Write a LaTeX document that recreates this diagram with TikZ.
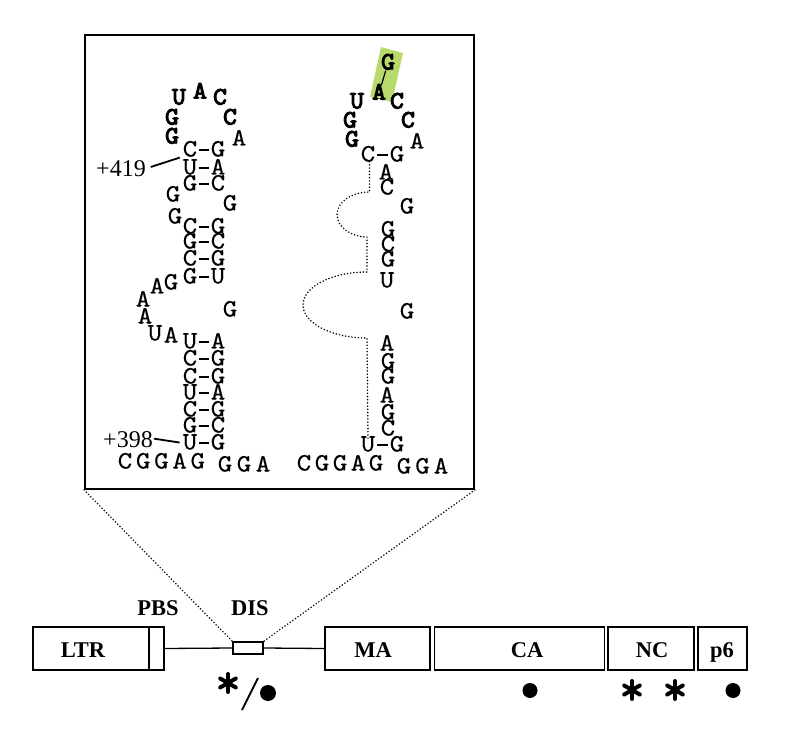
\documentclass[tikz,border=0pt]{standalone}
\usepackage{fontspec}
\setmainfont{Liberation Serif}
\newfontfamily\ntfont{lmmono10-regular.otf}[FakeStretch=1.1, FakeBold=0.4, BoldFont=lmmono10-regular.otf, BoldFeatures={FakeStretch=1.05, FakeBold=4}]
\usepackage{tikz}
\definecolor{hilite}{HTML}{B8DA6C}
\tikzset{
  nt/.style={font=\ntfont\fontsize{25}{25}\selectfont, inner sep=0pt, text height=13pt, text depth=0pt},
  ntb/.style={nt, font=\ntfont\bfseries\fontsize{25}{25}\selectfont},
  bond/.style={draw, line width=1.1pt, shorten <=1.5pt, shorten >=1.5pt},
  tick/.style={draw, line width=1.8pt},
  poslab/.style={font=\fontsize{24}{24}\selectfont, inner sep=0pt, text height=17pt, text depth=0pt},
  dotline/.style={line width=1.7pt, line cap=round, dash pattern=on 0pt off 3.2pt},
  insetbox/.style={draw, line width=1.8pt, inner sep=0pt},
  genebox/.style={draw, line width=1.6pt, minimum height=43pt, inner sep=0pt},
  genebar/.style={draw, line width=1.3pt},
  genelab/.style={font=\bfseries\fontsize{22.5}{22.5}\selectfont, inner sep=0pt, text height=15pt, text depth=0pt},
  dotmark/.style={circle, fill, inner sep=0pt, minimum size=15pt},
  asterisk/.pic={
    \foreach \a in {90,30,150}
      \draw[line width=4pt, line cap=round] (\a:9) -- (\a+180:9);
  },
}

\begin{document}
\begin{tikzpicture}[x=1pt,y=-1pt]
  \useasboundingbox (0,0) rectangle (785,746);

  % inset frame
  \node[insetbox, minimum width=389pt, minimum height=454pt] (inset) at (279.5,262) {};

  % left hairpin: loop
  \foreach \x/\y/\b [count=\i] in {172/137/G,172/118/G,179/98/U,200/92/A,220/98/C,230/118/C}
    \node[ntb] (lloop\i) at (\x,\y) {\b};
  % left hairpin: stem pairs
  \foreach \y/\a/\b [count=\i] in {150/C/G,168/U/A,184/G/C,227/C/G,242/G/C,259/C/G,277/G/U,
                                   342/U/A,359/C/G,377/C/G,393/U/A,410/C/G,426/G/C,443/U/G} {
    \node[nt] (lpa\i) at (190,\y) {\a};
    \node[nt] (lpb\i) at (218,\y) {\b};
    \draw[bond] (lpa\i) -- (lpb\i);
  }
  % left hairpin: bulges
  \foreach \x/\y/\b [count=\i] in {239/139/A,173/195/G,230/204/G,175/217/G,171/283/G,157/287/A,
                                   143/300/A,145/317/A,155/334/U,171/336/A,230/310/G}
    \node[nt] (lbul\i) at (\x,\y) {\b};
  % left hairpin: flanks
  \foreach \b [count=\i] in {C,G,G,A,G}
    \node[nt] (lfa\i) at (125+18.2*\i-18.2,462) {\b};
  \foreach \b [count=\i] in {G,G,A}
    \node[nt] (lfb\i) at (225+19*\i-19,465) {\b};

  \node[poslab] (p419) at (121,168.5) {+419};
  \node[poslab] (p398) at (128,438.5) {+398};
  \draw[tick, shorten <=5pt, shorten >=3pt] (p419.east) -- (lpa1.south west);
  \draw[tick, shorten <=1pt, shorten >=3pt] (p398.east) -- (lpa14.west);

  % right hairpin
  \fill[hilite] (381,47) -- (403,53) -- (392,102) -- (370,97) -- cycle;
  \foreach \x/\y/\b [count=\i] in {352/140/G,350/121/G,357/102/U,379/93/A,388/63/G,397/102/C,408/121/C}
    \node[ntb] (rloop\i) at (\x,\y) {\b};
  \draw[line width=1.2pt, shorten <=1pt, shorten >=1pt] (rloop5) -- (rloop4);
  \node[nt] (rpa1) at (368,155) {C};
  \node[nt] (rpb1) at (397,155) {G};
  \node[nt] (rpa2) at (368,445) {U};
  \node[nt] (rpb2) at (397,445) {G};
  \draw[bond] (rpa1) -- (rpb1);
  \draw[bond] (rpa2) -- (rpb2);
  \foreach \x/\y/\b [count=\i] in {417/142/A,386/173/A,387/188/C,407/207/G,388/230/G,388/245/C,
                                   388/260/G,387/281/U,407/312/G,387/344/A,388/362/G,388/377/G,
                                   387/396/A,388/413/G,388/429/C}
    \node[nt] (rbul\i) at (\x,\y) {\b};
  \foreach \b [count=\i] in {C,G,G,A,G}
    \node[nt] (rfa\i) at (304+18*\i-18,464) {\b};
  \foreach \b [count=\i] in {G,G,A}
    \node[nt] (rfb\i) at (404+18.5*\i-18.5,467) {\b};
  \draw[dotline] ([xshift=1.5pt]rpa1.south) -- (369.5,192)
    .. controls (351.6,192) and (337,202.1) .. (337,214.5)
    .. controls (337,226.9) and (351,237) .. (367,237) -- (367,272)
    .. controls (331.7,272) and (303,286.8) .. (303,305)
    .. controls (303,323.2) and (331.7,338) .. (367,338) -- (rpa2.north);

  % genome bar
  \node[genebox, minimum width=131pt] (ltr) at (98.5,648.5) {};
  \draw[genebar, line width=1.6pt] ([xshift=-16pt]ltr.north east) -- ([xshift=-16pt]ltr.south east);
  \node[genebox, minimum width=30pt, minimum height=12pt, line width=1.3pt] (dis) at (248,648) {};
  \node[genebox, minimum width=105pt] (ma) at (377.5,648.5) {};
  \node[genebox, minimum width=170pt] (ca) at (519.5,648.5) {};
  \node[genebox, minimum width=86pt] (nc) at (651,648.5) {};
  \node[genebox, minimum width=49pt] (psix) at (722.5,648.5) {};
  \draw[genebar] (ltr.east) -- (dis.west);
  \draw[genebar] (dis.east) -- (ma.west);
  \draw[dotline] (inset.south west) -- (dis.north west);
  \draw[dotline] (inset.south east) -- (dis.north east);

  \node[genelab] (ltrlab) at (83,650) {LTR};
  \node[genelab] (pbslab) at (158,607.5) {PBS};
  \node[genelab] (dislab) at (250,607.5) {DIS};
  \node[genelab] (malab) at (373,650) {MA};
  \node[genelab] (calab) at (527,650) {CA};
  \node[genelab] (nclab) at (652,650) {NC};
  \node[genelab] (psixlab) at (722,650) {p6};

  % marks
  \pic at (228,683) {asterisk};
  \draw[line width=1.8pt] (242,710) -- (258,678);
  \node[dotmark, minimum size=16pt] (disdot) at (268,693) {};
  \node[dotmark] (cadot) at (530,690.5) {};
  \pic at (632,690) {asterisk};
  \pic at (675,690) {asterisk};
  \node[dotmark] (psixdot) at (733,690.5) {};
\end{tikzpicture}
\end{document}
